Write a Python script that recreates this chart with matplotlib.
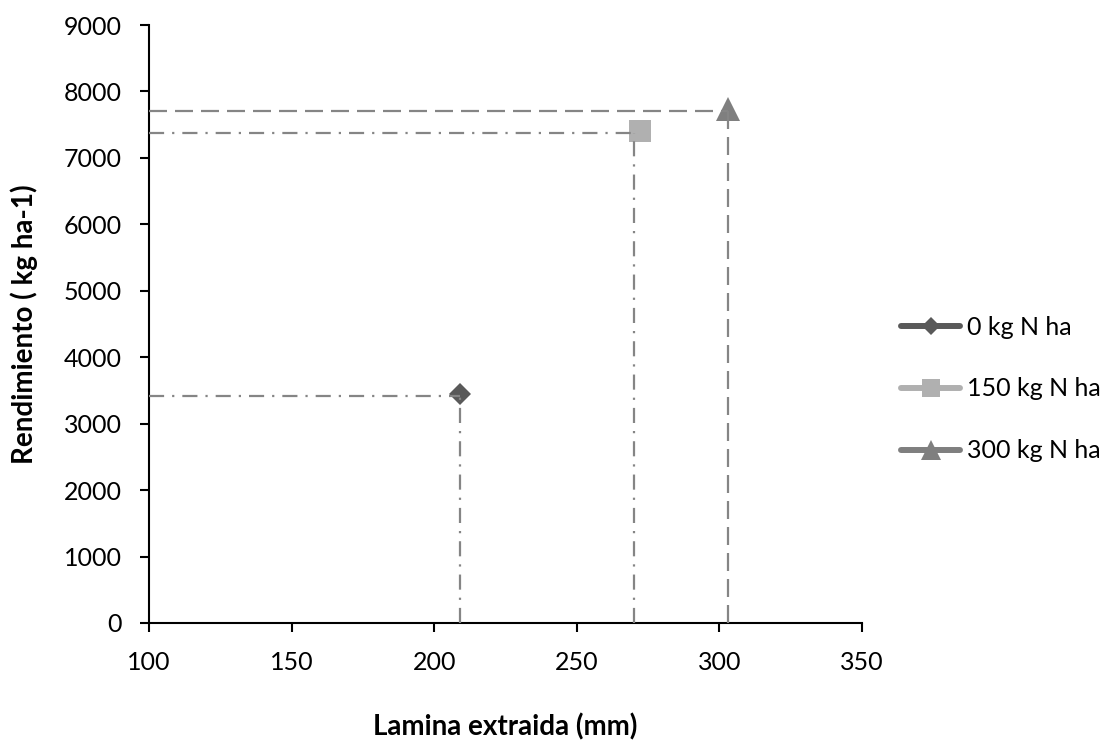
import matplotlib
matplotlib.use("Agg")
import matplotlib.pyplot as plt

plt.rcParams['font.family'] = ['Lato', 'DejaVu Sans']

# Treatments: irrigation depth extracted (mm) vs grain yield (kg/ha)
series_labels = ["0 kg N ha", "150 kg N ha", "300 kg N ha"]
lamina = [209, 272, 303]
rendimiento = [3450, 7400, 7730]

# Guide lines dropped from each point to the axes
guide_x = [209, 270, 303]
guide_y = [3420, 7370, 7700]
dashdot = (0, (6.8, 3.6, 1.0, 3.6))
dashed = (0, (8.1, 3.6))
guide_styles = [dashdot, dashdot, dashed]

colors = ["#595959", "#b0b0b0", "#7f7f7f"]
markers = ["D", "s", "^"]
marker_sizes = [11.5, 16.5, 17]

fig = plt.figure(figsize=(11.18, 7.42), dpi=100)
ax = fig.add_axes([0.1333, 0.1604, 0.6377, 0.8059])

for xv, yv, ls in zip(guide_x, guide_y, guide_styles):
    ax.plot([100, xv], [yv, yv], color="#858585", lw=1.6, linestyle=ls, zorder=3)
    ax.plot([xv, xv], [0, yv], color="#858585", lw=1.6, linestyle=ls, zorder=3)

for x, y, lab, c, m, ms in zip(lamina, rendimiento, series_labels, colors, markers, marker_sizes):
    ax.plot([x], [y], color=c, marker=m, markersize=ms, linestyle='-', lw=4.3,
            solid_capstyle='round', markeredgewidth=0, label=lab, zorder=2)

ax.set_xlim(100, 350)
ax.set_ylim(0, 9000)
ax.set_xticks(range(100, 351, 50))
ax.set_yticks(range(0, 9001, 1000))
ax.spines['top'].set_visible(False)
ax.spines['right'].set_visible(False)
for s in ('left', 'bottom'):
    ax.spines[s].set_linewidth(1.5)
ax.tick_params(axis='both', direction='out', length=6.5, width=1.5, labelsize=18)
ax.tick_params(axis='x', pad=14)
ax.tick_params(axis='y', pad=13)

ax.set_xlabel("Lamina extraida (mm)", fontsize=20, fontweight='bold')
ax.xaxis.set_label_coords(0.5, (623 - 727) / 598)
ax.xaxis.label.set_va('center')
ax.set_ylabel("Rendimiento ( kg ha-1)", fontsize=20, fontweight='bold')
ax.yaxis.set_label_coords((24 - 149) / 713, 0.5)
ax.yaxis.label.set_va('center')

leg = fig.legend(loc='center left', bbox_to_anchor=(0.806, 1 - 389 / 742), frameon=False,
                 fontsize=18, handlelength=2.36, handletextpad=0.28, labelspacing=1.55,
                 borderpad=0, borderaxespad=0, markerscale=0.82)

fig.savefig("out.png", dpi=100)
